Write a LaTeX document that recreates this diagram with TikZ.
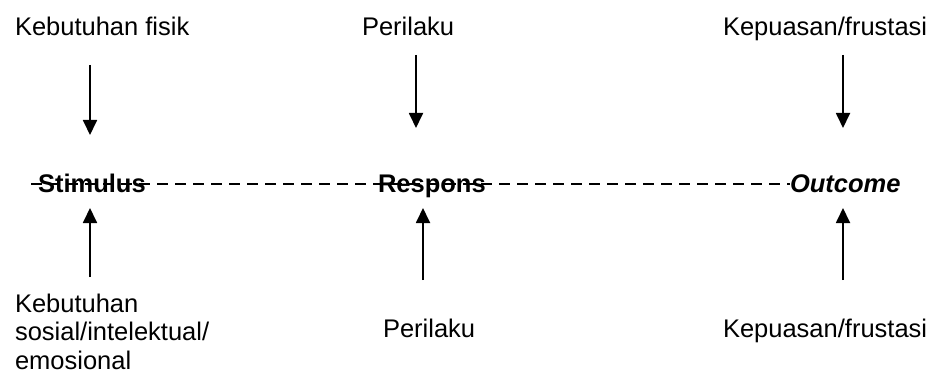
\documentclass[tikz,border=0pt]{standalone}
\usepackage{fontspec}
\setmainfont{Liberation Sans}
\usetikzlibrary{arrows.meta}
\begin{document}
\begin{tikzpicture}[x=1pt,y=-1pt,
  lbl/.style={anchor=base west,inner sep=0pt,outer sep=0pt,font=\fontsize{25.5}{28.5}\selectfont},
  key/.style={lbl,font=\fontsize{25.5}{28.5}\selectfont\bfseries},
  arr/.style={line width=1.8pt,-{Triangle[length=15pt,width=14pt]}},
  link/.style={line width=1.8pt,dash pattern=on 11pt off 7pt}]
\useasboundingbox (0,0) rectangle (934,374);
% dashed line
\coordinate (l0) at (31,184);
\coordinate (l1) at (790,184);
\draw[link] (l0) -- (l1);
% texts
\node[lbl] (t1) at (15,36) {Kebutuhan fisik};
\node[lbl] (t2) at (362,36) {Perilaku};
\node[lbl] (t3) at (723,36) {Kepuasan/frustasi};
\node[key] (m1) at (38,193) {Stimulus};
\node[key] (m2) at (378,193) {Respons};
\node[key,font=\fontsize{25.5}{28.5}\selectfont\bfseries\itshape] (m3) at (790,193) {Outcome};
\node[lbl,align=left] (b1) at (15,369) {Kebutuhan\\sosial/intelektual/\\emosional};
\node[lbl] (b2) at (383,337) {Perilaku};
\node[lbl] (b3) at (723,337) {Kepuasan/frustasi};
% arrow ends
\coordinate (a1s) at (90,65);  \coordinate (a1e) at (90,135);
\coordinate (a2s) at (416,55); \coordinate (a2e) at (416,128);
\coordinate (a3s) at (843,55); \coordinate (a3e) at (843,128);
\coordinate (c1s) at (90,277); \coordinate (c1e) at (90,208);
\coordinate (c2s) at (423,280); \coordinate (c2e) at (423,208);
\coordinate (c3s) at (843,280); \coordinate (c3e) at (843,208);
\draw[arr] (a1s) -- (a1e);
\draw[arr] (a2s) -- (a2e);
\draw[arr] (a3s) -- (a3e);
\draw[arr] (c1s) -- (c1e);
\draw[arr] (c2s) -- (c2e);
\draw[arr] (c3s) -- (c3e);
\end{tikzpicture}
\end{document}
